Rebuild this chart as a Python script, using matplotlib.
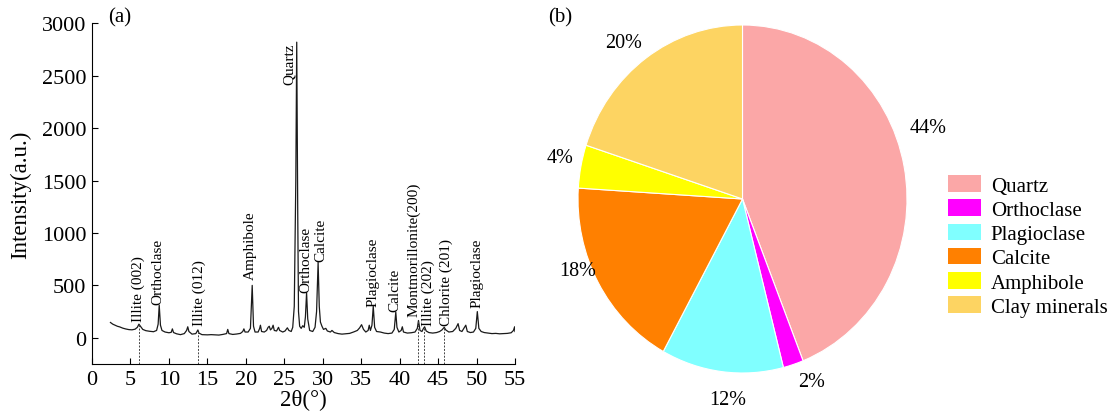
import matplotlib
matplotlib.use("Agg")
import matplotlib.pyplot as plt
from matplotlib.patches import Patch

plt.rcParams["font.family"] = ["Liberation Serif", "DejaVu Serif"]

# XRD pattern, 2theta (deg) vs intensity (a.u.)
two_theta = [
    2.4, 2.7, 3.0, 3.3, 3.6, 4.0, 4.4, 4.8, 5.2, 5.6, 5.9, 6.1, 6.3, 6.6, 7.0, 7.5,
    8.0, 8.4, 8.6, 8.74, 8.9, 9.1, 9.5, 10.0, 10.3, 10.45, 10.6, 11.0, 11.5, 12.0,
    12.3, 12.45, 12.6, 13.0, 13.5, 13.65, 13.77, 13.9, 14.3, 15.0, 15.5, 16.0, 16.5,
    17.0, 17.5, 17.65, 17.8, 18.3, 18.8, 19.3, 19.6, 19.75, 19.9, 20.3, 20.6, 20.83,
    21.0, 21.2, 21.6, 21.8, 21.9, 22.05, 22.4, 22.7, 22.9, 23.05, 23.2, 23.4, 23.55,
    23.7, 24.0, 24.25, 24.4, 24.8, 25.1, 25.4, 25.6, 25.9, 26.1, 26.3, 26.5, 26.62,
    26.75, 26.85, 27.0, 27.2, 27.4, 27.6, 27.75, 27.9, 28.05, 28.3, 28.7, 29.0, 29.2,
    29.4, 29.55, 29.7, 29.9, 30.1, 30.4, 30.6, 31.0, 31.2, 31.5, 32.0, 32.5, 33.0,
    33.5, 34.0, 34.5, 34.8, 35.05, 35.3, 35.6, 35.9, 36.05, 36.2, 36.4, 36.57, 36.75,
    37.0, 37.5, 38.0, 38.5, 39.0, 39.3, 39.5, 39.65, 39.9, 40.2, 40.35, 40.5, 41.0,
    41.5, 42.0, 42.3, 42.45, 42.65, 42.9, 43.1, 43.25, 43.45, 43.8, 44.3, 44.8, 45.2,
    45.5, 45.8, 46.0, 46.4, 46.9, 47.3, 47.6, 47.8, 48.1, 48.4, 48.6, 48.8, 49.2,
    49.6, 49.9, 50.1, 50.3, 50.6, 51.0, 51.5, 52.0, 52.5, 53.0, 53.5, 54.0, 54.5,
    54.8, 54.95, 55.0,
]
intensity = [
    146, 130, 120, 110, 104, 92, 84, 78, 76, 82, 100, 130, 110, 80, 68, 62,
    58, 70, 130, 311, 120, 70, 55, 48, 52, 85, 50, 38, 30, 40,
    70, 105, 60, 35, 40, 60, 75, 45, 30, 28, 30, 28, 26,
    32, 40, 80, 40, 32, 36, 42, 60, 85, 55, 55, 90, 500,
    110, 55, 55, 90, 120, 60, 55, 70, 100, 110, 75, 90, 120,
    70, 65, 100, 70, 55, 65, 95, 70, 60, 100, 300, 1500, 2820,
    1200, 250, 110, 90, 115, 100, 200, 430, 180, 70, 60, 100, 250,
    720, 300, 150, 110, 80, 90, 65, 55, 70, 50, 40, 35, 38,
    42, 55, 70, 95, 125, 80, 55, 70, 120, 70, 120, 300, 100,
    60, 55, 45, 40, 45, 80, 245, 100, 55, 70, 105, 55, 45,
    48, 55, 90, 165, 70, 60, 90, 105, 65, 50, 45, 50, 60,
    75, 100, 75, 55, 60, 90, 135, 70, 60, 95, 120, 60, 50,
    55, 90, 250, 90, 60, 50, 45, 40, 42, 38, 40, 42, 48,
    70, 105, 60,
]

# phase labels: text, 2theta, bottom of label
peak_names = ["Illite (002)", "Orthoclase", "Illite (012)", "Amphibole", "Orthoclase",
              "Calcite", "Plagioclase", "Calcite", "Montmorillonite(200)", "Illite (202)",
              "Chlorite (201)", "Plagioclase"]
peak_x = [6.0, 8.6, 13.9, 20.6, 27.75, 29.75, 36.5, 39.4, 41.85, 43.75, 46.0, 50.1]
peak_y = [157, 318, 120, 565, 440, 735, 305, 255, 210, 120, 120, 290]

# reflections marked with a dashed drop line
dashed_x = [6.1, 13.77, 42.4, 43.2, 45.8]
dashed_top = [130, 75, 165, 105, 100]

# mineral composition
minerals = ["Quartz", "Orthoclase", "Plagioclase", "Calcite", "Amphibole", "Clay minerals"]
percent = [44, 2, 12, 18, 4, 20]
colors = ["#FBA7A7", "#FF00FF", "#80FFFF", "#FF8000", "#FFFF00", "#FDD462"]
# where the percent text sits, in units of the pie radius
label_pos = [(1.13, 0.41), (0.42, -1.05), (-0.09, -1.15), (-1.0, -0.41),
             (-1.11, 0.24), (-0.72, 0.90)]

W, H = 1112, 414
fig = plt.figure(figsize=(W / 100, H / 100), dpi=100)

# ---- (a) XRD pattern
ax = fig.add_axes([92 / W, 1 - 365 / H, 423 / W, (365 - 24.3) / H])
ax.plot(two_theta, intensity, color="#1a1a1a", lw=0.9)
ax.vlines(dashed_x, -250, dashed_top, colors="#444444", linestyles=(0, (2, 1.5)), lw=0.7)
for name, x, y in zip(peak_names, peak_x, peak_y):
    ax.text(x, y, name, rotation=90, ha="center", va="bottom", fontsize=11)
ax.text(26.45, 2820, "Quartz", rotation=90, ha="right", va="top", fontsize=11)

ax.set_xlim(0, 55)
ax.set_ylim(-250, 3000)
ax.set_xticks(range(0, 56, 5))
ax.set_yticks(range(0, 3001, 500))
ax.spines["top"].set_visible(False)
ax.spines["right"].set_visible(False)
ax.tick_params(direction="in", length=4, labelsize=16, pad=4)
ax.set_xlabel("2θ(°)", fontsize=16.5, labelpad=0)
ax.set_ylabel("Intensity(a.u.)", fontsize=16.5, labelpad=8)
fig.text(108 / W, 1 - 18 / H, "(a)", fontsize=15, va="center")

# ---- (b) composition pie
pax = fig.add_axes([578 / W, 1 - 374 / H, 329 / W, 348 / H])
wedges, _ = pax.pie(percent, colors=colors, startangle=90, counterclock=False,
                    wedgeprops=dict(edgecolor="white", linewidth=0.8))
pax.set_aspect("auto")
pax.set_xlim(-1, 1)
pax.set_ylim(-1, 1)
for p, (lx, ly) in zip(percent, label_pos):
    pax.text(lx, ly, f"{p}%", ha="center", va="center", fontsize=14.5)
fig.text(548 / W, 1 - 18 / H, "(b)", fontsize=15, va="center")

handles = [Patch(facecolor=c, edgecolor="none") for c in colors]
fig.legend(handles, minerals, loc="upper left", bbox_to_anchor=(948 / W, 1 - 176 / H),
           frameon=False, fontsize=15, handlelength=1.6, handleheight=0.85,
           handletextpad=0.45, labelspacing=0.18, borderpad=0, borderaxespad=0)

fig.savefig("out.png", dpi=100)
